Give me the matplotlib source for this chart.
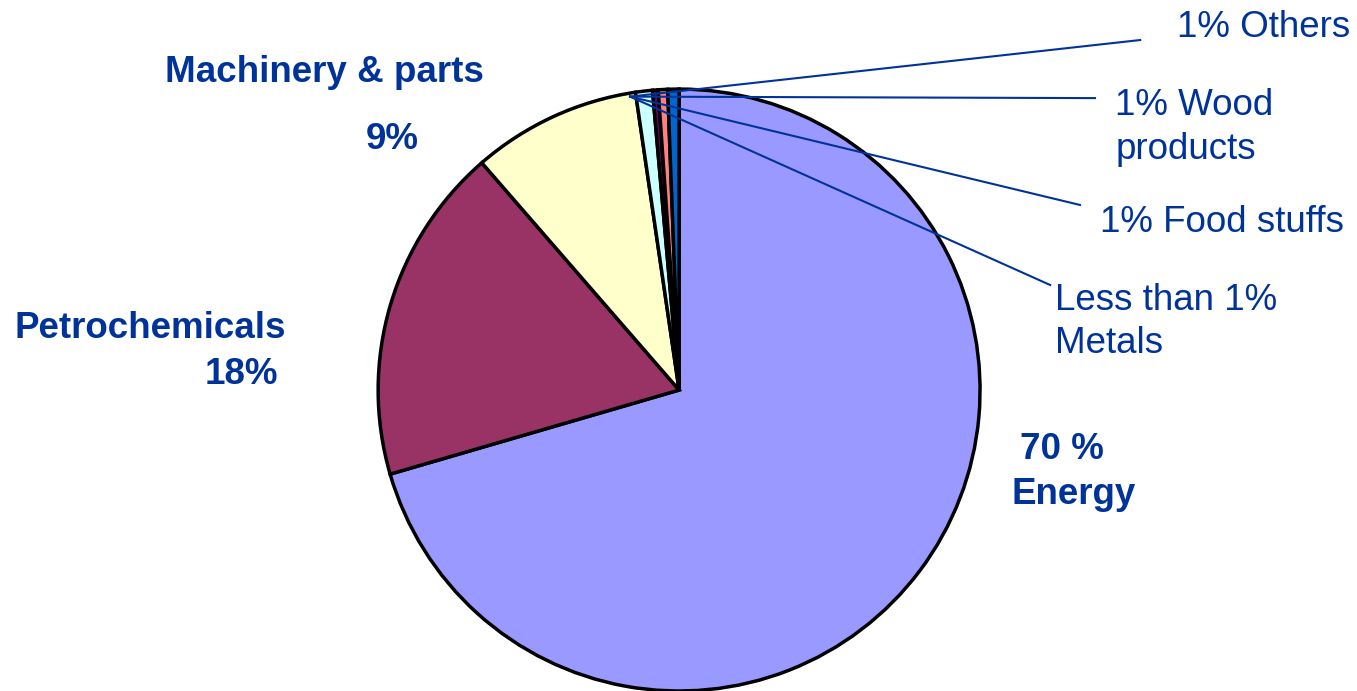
import numpy as np
import matplotlib.pyplot as plt

plt.rcParams['font.family'] = ['Liberation Sans', 'DejaVu Sans']

# slices, clockwise from 12 o'clock
sectors = ["Energy", "Petrochemicals", "Machinery & parts", "Wood products",
           "Metals", "Food stuffs", "Others"]
shares = [70, 18, 9, 0.9, 0.3, 0.5, 0.6]
colors = ["#9999FF", "#993366", "#FFFFCC", "#CCFFFF", "#660066", "#FF8080", "#0066CC"]

# small slices labelled with leader lines
small_labels = ["1% Others", "1% Wood\nproducts", "1% Food stuffs", "Less than 1%\nMetals"]

TXT = "#003399"

fig = plt.figure(figsize=(13.57, 6.91), dpi=100)
ax = fig.add_axes([0, 0, 1, 1])

wedges, _ = ax.pie(shares, colors=colors, startangle=90, counterclock=False,
                   wedgeprops=dict(edgecolor="black", linewidth=2.5))
for w in wedges:
    w.set_clip_on(False)

ax.set_xlim(-2.256, 2.252)
ax.set_ylim(-1.0, 1.296)
ax.set_aspect("equal")
ax.axis("off")

# bold labels for the big slices
bold = dict(color=TXT, fontsize=26.5, fontweight="bold")
ax.text(-1.179, 1.056, "Machinery & parts", ha="center", va="center", **bold)
ax.text(-0.953, 0.831, "9%", ha="center", va="center", **bold)
ax.text(-1.306, 0.206, "Petrochemicals", ha="right", va="center", **bold)
ax.text(-1.332, 0.05, "18%", ha="right", va="center", **bold)
ax.text(1.272, -0.199, "70 %", ha="center", va="center", **bold)
ax.text(1.312, -0.346, "Energy", ha="center", va="center", **bold)

# leader lines all start from the same spot near the top of the pie
origin = (-0.163, 0.975)
line_ends = [(1.532, 1.163), (1.382, 0.970), (1.332, 0.615), (1.233, 0.349)]
text_pos = [(1.654, 1.206), (1.449, 0.873), (1.399, 0.558), (1.249, 0.226)]
for lab, end, pos in zip(small_labels, line_ends, text_pos):
    ax.plot([origin[0], end[0]], [origin[1], end[1]], color=TXT, lw=1.5,
            clip_on=False)
    ax.text(pos[0], pos[1], lab, ha="left", va="center", color=TXT,
            fontsize=26.5, linespacing=1.32)

fig.savefig("out.png", dpi=100)
